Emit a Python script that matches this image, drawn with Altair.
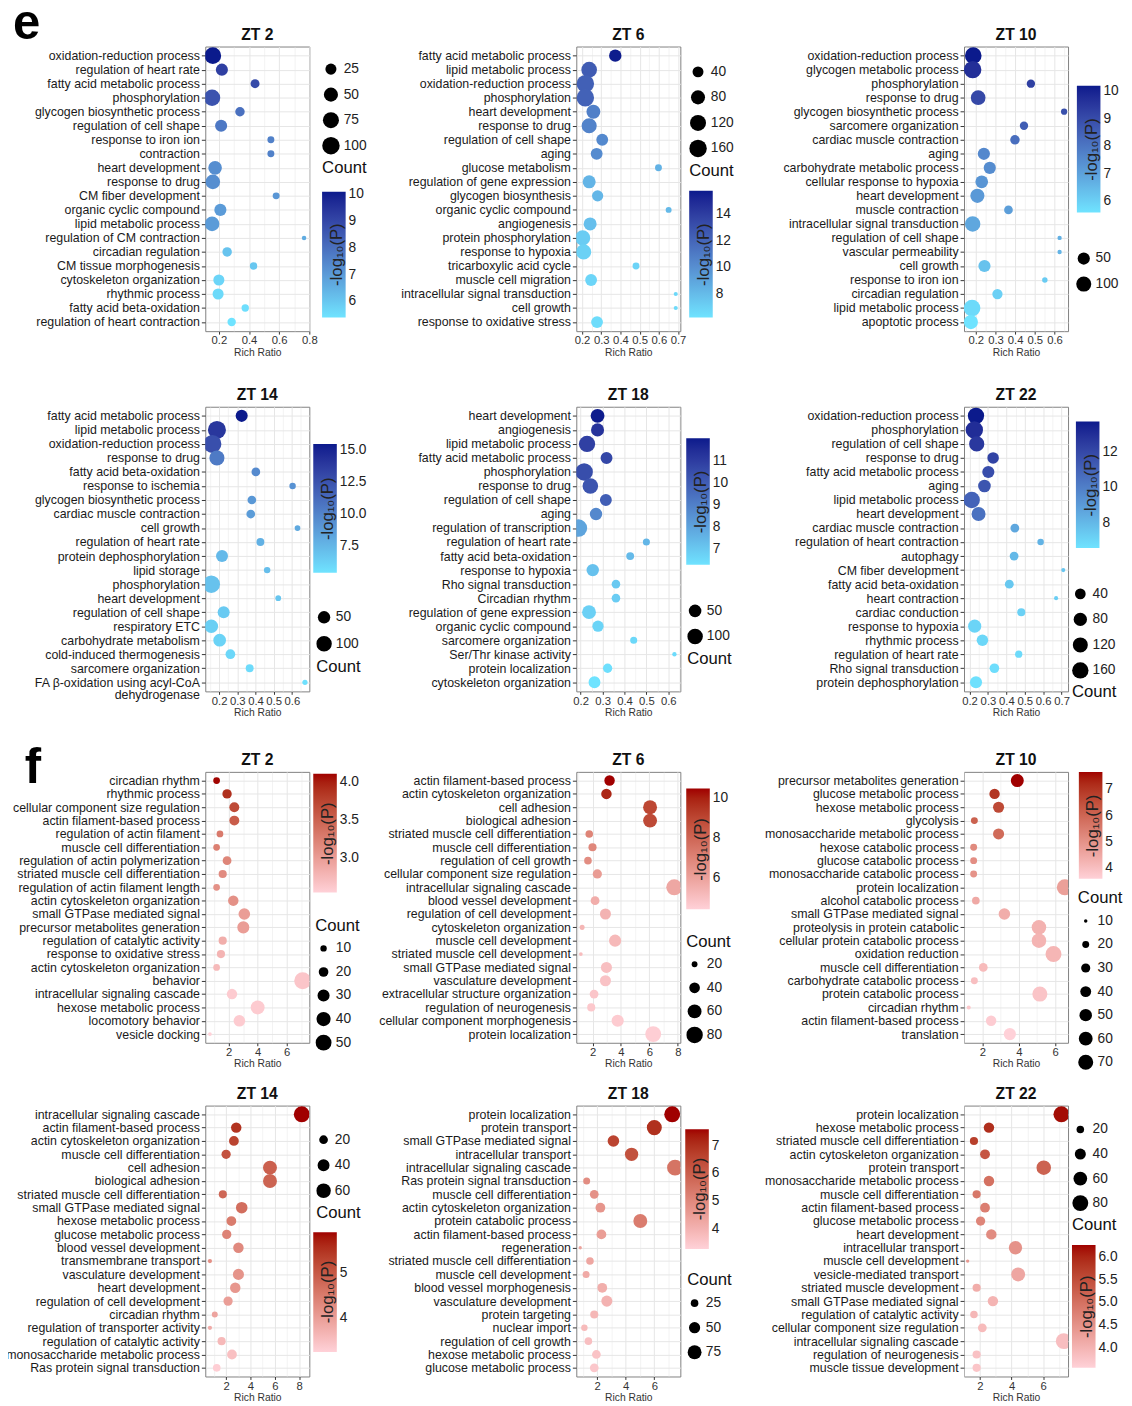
import json
import math
import altair as alt
import pandas as pd

# ---------------- data ----------------
E_ZT2_TERMS = ["oxidation-reduction process", "regulation of heart rate", "fatty acid metabolic process",
               "phosphorylation", "glycogen biosynthetic process", "regulation of cell shape",
               "response to iron ion", "contraction", "heart development", "response to drug",
               "CM fiber development", "organic cyclic compound", "lipid metabolic process",
               "regulation of CM contraction", "circadian regulation", "CM tissue morphogenesis",
               "cytoskeleton organization", "rhythmic process", "fatty acid beta-oxidation",
               "regulation of heart contraction"]
E_ZT2_RATIO = [0.16, 0.22, 0.44, 0.155, 0.34, 0.215, 0.545, 0.545, 0.175, 0.16, 0.58, 0.21, 0.155,
               0.765, 0.255, 0.43, 0.20, 0.195, 0.375, 0.285]
E_ZT2_COUNT = [85, 32, 15, 80, 17, 32, 9, 9, 45, 56, 9, 32, 56, 5, 17, 10, 25, 25, 10, 13]
E_ZT2_LOGP = [10.1, 9.2, 8.9, 8.7, 8.0, 7.8, 7.6, 7.6, 7.3, 7.3, 7.1, 7.0, 7.0, 6.6, 6.1, 6.0, 5.7,
              5.6, 5.5, 5.4]

E_ZT6_TERMS = ["fatty acid metabolic process", "lipid metabolic process", "oxidation-reduction process",
               "phosphorylation", "heart development", "response to drug", "regulation of cell shape",
               "aging", "glucose metabolism", "regulation of gene expression", "glycogen biosynthesis",
               "organic cyclic compound", "angiogenesis", "protein phosphorylation", "response to hypoxia",
               "tricarboxylic acid cycle", "muscle cell migration", "intracellular signal transduction",
               "cell growth", "response to oxidative stress"]
E_ZT6_RATIO = [0.373, 0.237, 0.217, 0.217, 0.259, 0.237, 0.305, 0.276, 0.598, 0.237, 0.281, 0.651,
               0.242, 0.203, 0.208, 0.481, 0.247, 0.688, 0.688, 0.278]
E_ZT6_COUNT = [56, 111, 160, 158, 77, 101, 49, 49, 15, 64, 43, 12, 64, 101, 101, 15, 49, 8, 8, 49]
E_ZT6_LOGP = [15.7, 12.5, 12.3, 12.2, 10.8, 10.6, 10.3, 10.2, 8.4, 8.3, 8.2, 8.1, 7.8, 7.2, 7.0, 6.9,
              6.8, 6.7, 6.6, 6.5]

E_ZT10_TERMS = ["oxidation-reduction process", "glycogen metabolic process", "phosphorylation",
                "response to drug", "glycogen biosynthetic process", "sarcomere organization",
                "cardiac muscle contraction", "aging", "carbohydrate metabolic process",
                "cellular response to hypoxia", "heart development", "muscle contraction",
                "intracellular signal transduction", "regulation of cell shape", "vascular permeability",
                "cell growth", "response to iron ion", "circadian regulation", "lipid metabolic process",
                "apoptotic process"]
E_ZT10_RATIO = [0.187, 0.184, 0.48, 0.212, 0.649, 0.445, 0.399, 0.241, 0.271, 0.23, 0.208, 0.366,
                0.184, 0.626, 0.626, 0.244, 0.551, 0.31, 0.181, 0.175]
E_ZT10_COUNT = [140, 165, 17, 92, 9, 17, 24, 50, 50, 57, 81, 19, 109, 5, 5, 50, 7, 30, 140, 81]
E_ZT10_LOGP = [10.2, 9.7, 9.3, 9.1, 8.9, 8.6, 8.2, 7.6, 7.5, 7.3, 7.2, 7.1, 6.9, 6.7, 6.6, 6.3, 6.1,
               6.0, 5.8, 5.6]

E_ZT14_TERMS = ["fatty acid metabolic process", "lipid metabolic process", "oxidation-reduction process",
                "response to drug", "fatty acid beta-oxidation", "response to ischemia",
                "glycogen biosynthetic process", "cardiac muscle contraction", "cell growth",
                "regulation of heart rate", "protein dephosphorylation", "lipid storage", "phosphorylation",
                "heart development", "regulation of cell shape", "respiratory ETC",
                "carbohydrate metabolism", "cold-induced thermogenesis", "sarcomere organization",
                "FA β-oxidation using acyl-CoA dehydrogenase"]
E_ZT14_RATIO = [0.324, 0.188, 0.163, 0.188, 0.402, 0.604, 0.38, 0.374, 0.631, 0.427, 0.216, 0.464,
                0.157, 0.525, 0.225, 0.157, 0.203, 0.262, 0.368, 0.672]
E_ZT14_COUNT = [46, 164, 164, 91, 20, 11, 20, 20, 9, 16, 46, 11, 149, 9, 46, 66, 54, 26, 16, 8]
E_ZT14_LOGP = [15.5, 14.0, 12.7, 10.5, 9.7, 9.3, 9.0, 8.8, 8.2, 7.8, 7.4, 7.2, 7.0, 6.8, 6.6, 6.4, 6.2,
               6.0, 5.8, 5.6]

E_ZT18_TERMS = ["heart development", "angiogenesis", "lipid metabolic process", "fatty acid metabolic process",
                "phosphorylation", "response to drug", "regulation of cell shape", "aging",
                "regulation of transcription", "regulation of heart rate", "fatty acid beta-oxidation",
                "response to hypoxia", "Rho signal transduction", "Circadian rhythm",
                "regulation of gene expression", "organic cyclic compound", "sarcomere organization",
                "Ser/Thr kinase activity", "protein localization", "cytoskeleton organization"]
E_ZT18_RATIO = [0.277, 0.277, 0.229, 0.318, 0.216, 0.244, 0.315, 0.27, 0.19, 0.5, 0.426, 0.255, 0.361,
                0.361, 0.238, 0.279, 0.442, 0.628, 0.323, 0.263]
E_ZT18_COUNT = [68, 56, 116, 42, 146, 100, 42, 48, 146, 11, 14, 48, 17, 17, 68, 36, 11, 5, 21, 42]
E_ZT18_LOGP = [12.0, 11.3, 10.9, 10.7, 10.5, 10.3, 10.0, 8.8, 8.0, 7.5, 7.4, 7.2, 7.0, 6.9, 6.8, 6.7,
               6.6, 6.5, 6.4, 6.3]

E_ZT22_TERMS = ["oxidation-reduction process", "phosphorylation", "regulation of cell shape",
                "response to drug", "fatty acid metabolic process", "aging", "lipid metabolic process",
                "heart development", "cardiac muscle contraction", "regulation of heart contraction",
                "autophagy", "CM fiber development", "fatty acid beta-oxidation", "heart contraction",
                "cardiac conduction", "response to hypoxia", "rhythmic process", "regulation of heart rate",
                "Rho signal transduction", "protein dephosphorylation"]
E_ZT22_RATIO = [0.235, 0.226, 0.239, 0.328, 0.302, 0.281, 0.212, 0.249, 0.446, 0.586, 0.442, 0.709,
                0.416, 0.67, 0.481, 0.228, 0.27, 0.467, 0.335, 0.235]
E_ZT22_COUNT = [160, 201, 126, 50, 59, 67, 160, 94, 23, 11, 23, 5, 23, 5, 18, 77, 50, 14, 29, 59]
E_ZT22_LOGP = [13.7, 13.0, 12.6, 12.2, 11.8, 11.5, 11.0, 10.5, 8.6, 8.2, 8.0, 7.6, 7.5, 7.3, 7.2, 7.1,
               7.0, 6.9, 6.8, 6.7]

F_ZT2_TERMS = ["circadian rhythm", "rhythmic process", "cellular component size regulation",
               "actin filament-based process", "regulation of actin filament", "muscle cell differentiation",
               "regulation of actin polymerization", "striated muscle cell differentiation",
               "regulation of actin filament length", "actin cytoskeleton organization",
               "small GTPase mediated signal", "precursor metabolites generation",
               "regulation of catalytic activity", "response to oxidative stress",
               "actin cytoskeleton organization", "behavior", "intracellular signaling cascade",
               "hexose metabolic process", "locomotory behavior", "vesicle docking"]
F_ZT2_RATIO = [1.17, 1.89, 2.39, 2.39, 1.40, 1.17, 1.89, 1.59, 1.17, 2.32, 3.08, 3.01, 1.59, 1.47, 1.17,
               7.1, 2.23, 4.0, 2.74, 0.71]
F_ZT2_COUNT = [11, 19, 21, 21, 11, 11, 17, 15, 11, 23, 28, 30, 15, 15, 11, 56, 23, 39, 28, 5]
F_ZT2_LOGP = [4.1, 3.9, 3.7, 3.55, 3.3, 3.25, 3.2, 3.15, 3.1, 3.1, 3.0, 3.0, 2.85, 2.8, 2.75, 2.65, 2.6,
              2.6, 2.6, 2.55]

F_ZT6_TERMS = ["actin filament-based process", "actin cytoskeleton organization", "cell adhesion",
               "biological adhesion", "striated muscle cell differentiation", "muscle cell differentiation",
               "regulation of cell growth", "cellular component size regulation",
               "intracellular signaling cascade", "blood vessel development", "regulation of cell development",
               "cytoskeleton organization", "muscle cell development", "striated muscle cell development",
               "small GTPase mediated signal", "vasculature development",
               "extracellular structure organization", "regulation of neurogenesis",
               "cellular component morphogenesis", "protein localization"]
F_ZT6_RATIO = [3.2, 2.98, 6.05, 6.05, 1.77, 2.0, 1.68, 2.34, 7.75, 2.18, 2.91, 1.27, 3.59, 1.18, 2.98,
               2.91, 2.11, 1.91, 3.77, 6.27]
F_ZT6_COUNT = [39, 39, 60, 60, 26, 28, 26, 33, 75, 31, 42, 18, 49, 15, 42, 42, 31, 28, 49, 75]
F_ZT6_LOGP = [10.5, 9.9, 9.0, 8.9, 7.0, 6.9, 6.7, 6.2, 5.8, 5.6, 5.4, 5.3, 5.2, 5.1, 5.0, 4.9, 4.8, 4.7,
              4.6, 4.5]

F_ZT10_TERMS = ["precursor metabolites generation", "glucose metabolic process", "hexose metabolic process",
                "glycolysis", "monosaccharide metabolic process", "hexose catabolic process",
                "glucose catabolic process", "monosaccharide catabolic process", "protein localization",
                "alcohol catabolic process", "small GTPase mediated signal", "proteolysis in protein catabolic",
                "cellular protein catabolic process", "oxidation reduction", "muscle cell differentiation",
                "carbohydrate catabolic process", "protein catabolic process", "circadian rhythm",
                "actin filament-based process", "translation"]
F_ZT10_RATIO = [3.92, 2.67, 2.89, 1.56, 2.89, 1.52, 1.52, 1.52, 6.53, 1.64, 3.21, 5.11, 5.11, 5.91, 2.05,
                1.56, 5.16, 1.25, 2.48, 3.51]
F_ZT10_COUNT = [54, 37, 41, 20, 41, 20, 20, 20, 78, 23, 44, 66, 66, 78, 28, 20, 70, 11, 37, 48]
F_ZT10_LOGP = [7.7, 7.0, 6.6, 6.1, 5.9, 5.2, 5.1, 5.0, 4.7, 4.5, 4.4, 4.3, 4.25, 4.2, 4.1, 4.0, 3.9, 3.8,
               3.7, 3.6]

F_ZT14_TERMS = ["intracellular signaling cascade", "actin filament-based process",
                "actin cytoskeleton organization", "muscle cell differentiation", "cell adhesion",
                "biological adhesion", "striated muscle cell differentiation", "small GTPase mediated signal",
                "hexose metabolic process", "glucose metabolic process", "blood vessel development",
                "transmembrane transport", "vasculature development", "heart development",
                "regulation of cell development", "circadian rhythm", "regulation of transporter activity",
                "regulation of catalytic activity", "monosaccharide metabolic process",
                "Ras protein signal transduction"]
F_ZT14_RATIO = [8.21, 2.83, 2.64, 2.0, 5.6, 5.6, 1.73, 3.28, 2.43, 2.05, 3.01, 0.67, 3.01, 2.75, 2.16,
                1.07, 0.67, 1.63, 2.48, 1.23]
F_ZT14_COUNT = [73, 30, 26, 23, 55, 55, 17, 37, 26, 23, 30, 3, 34, 30, 23, 8, 3, 17, 26, 15]
F_ZT14_LOGP = [5.9, 5.5, 5.3, 5.1, 4.9, 4.85, 4.8, 4.7, 4.5, 4.4, 4.3, 4.2, 4.15, 4.1, 4.0, 3.9, 3.8,
               3.6, 3.5, 3.3]

F_ZT18_TERMS = ["protein localization", "protein transport", "small GTPase mediated signal",
                "intracellular transport", "intracellular signaling cascade", "Ras protein signal transduction",
                "muscle cell differentiation", "actin cytoskeleton organization", "protein catabolic process",
                "actin filament-based process", "regeneration", "striated muscle cell differentiation",
                "muscle cell development", "blood vessel morphogenesis", "vasculature development",
                "protein targeting", "nuclear import", "regulation of cell growth", "hexose metabolic process",
                "glucose metabolic process"]
F_ZT18_RATIO = [7.25, 6.0, 3.14, 4.41, 7.45, 1.27, 1.8, 2.23, 5.02, 2.30, 0.82, 1.5, 1.23, 2.36, 2.68,
                1.8, 1.11, 1.39, 1.95, 1.8]
F_ZT18_COUNT = [97, 87, 53, 69, 97, 22, 32, 39, 75, 39, 8, 25, 22, 39, 49, 28, 19, 25, 32, 32]
F_ZT18_LOGP = [7.6, 7.0, 6.6, 6.3, 5.5, 4.9, 4.8, 4.7, 5.3, 4.5, 4.4, 4.3, 4.2, 4.1, 4.0, 3.9, 3.8, 3.7,
               3.6, 3.5]

F_ZT22_TERMS = ["protein localization", "hexose metabolic process", "striated muscle cell differentiation",
                "actin cytoskeleton organization", "protein transport", "monosaccharide metabolic process",
                "muscle cell differentiation", "actin filament-based process", "glucose metabolic process",
                "heart development", "intracellular transport", "muscle cell development",
                "vesicle-mediated transport", "striated muscle development", "small GTPase mediated signal",
                "regulation of catalytic activity", "cellular component size regulation",
                "intracellular signaling cascade", "regulation of neurogenesis", "muscle tissue development"]
F_ZT22_RATIO = [7.16, 2.57, 1.62, 2.32, 6.04, 2.57, 1.79, 2.32, 2.04, 2.72, 4.25, 1.22, 4.42, 1.79, 2.82,
                1.62, 2.15, 7.31, 1.79, 1.79]
F_ZT22_COUNT = [80, 36, 23, 32, 67, 36, 23, 32, 29, 36, 57, 6, 62, 23, 36, 20, 26, 80, 23, 23]
F_ZT22_LOGP = [6.2, 5.9, 5.7, 5.4, 5.2, 5.0, 4.9, 4.8, 4.7, 4.6, 4.5, 4.4, 4.2, 4.1, 4.0, 3.95, 3.9,
               3.85, 3.8, 3.75]

# ---------------- styles ----------------
LABEL_FONT = "Liberation Sans, Arial, sans-serif"
TEXT_FONT = "Liberation Sans, Arial, sans-serif"
BLUE = ["#6FE3FF", "#0B1A8C"]
RED = ["#FFD1D8", "#A00000"]
GRID = "#E6E6E6"
PW = 106           # plot width
EH, FH = 290, 276  # plot heights
COL_GAPS = [272, 289]          # plot-to-plot horizontal gaps
ROW_GAPS = [77, 82, 64]        # plot-to-plot vertical gaps


def d2a(d):
    return round(math.pi / 4 * d * d, 1)


PANELS = {
    "eZT2": dict(title="ZT 2", terms=E_ZT2_TERMS, ratio=E_ZT2_RATIO, count=E_ZT2_COUNT, logp=E_ZT2_LOGP,
                 h=EH, pal=BLUE, xdom=[0.11, 0.80], xstep=0.2, xfmt=".1f",
                 cdom=[5.4, 10.1], cvals=[6, 7, 8, 9, 10], cfmt="d", clen=128, cpos=(117, 148),
                 stype="sqrt", sdom=[5, 110], srange=[d2a(5.2), d2a(20.7)], svals=[25, 50, 75, 100],
                 spos=(119, 10), stitle="bottom", clip=26),
    "eZT6": dict(title="ZT 6", terms=E_ZT6_TERMS, ratio=E_ZT6_RATIO, count=E_ZT6_COUNT, logp=E_ZT6_LOGP,
                 h=EH, pal=BLUE, xdom=[0.17, 0.712], xstep=0.1, xfmt=".1f",
                 cdom=[6.2, 15.8], cvals=[8, 10, 12, 14], cfmt="d", clen=129, cpos=(113, 147),
                 stype="sqrt", sdom=[8, 170], srange=[d2a(4.7), d2a(20.5)], svals=[40, 80, 120, 160],
                 spos=(115, 13), stitle="bottom", clip=25.6),
    "eZT10": dict(title="ZT 10", terms=E_ZT10_TERMS, ratio=E_ZT10_RATIO, count=E_ZT10_COUNT, logp=E_ZT10_LOGP,
                  h=EH, pal=BLUE, xdom=[0.14, 0.669], xstep=0.1, xfmt=".1f",
                  cdom=[5.6, 10.2], cvals=[6, 7, 8, 9, 10], cfmt="d", clen=129, cpos=(113, 40),
                  stype="sqrt", sdom=[5, 165], srange=[d2a(5), d2a(20)], svals=[50, 100],
                  spos=(114, 203), stitle=None, clip=26),
    "eZT14": dict(title="ZT 14", terms=E_ZT14_TERMS, ratio=E_ZT14_RATIO, count=E_ZT14_COUNT, logp=E_ZT14_LOGP,
                  h=EH, pal=BLUE, xdom=[0.124, 0.696], xstep=0.1, xfmt=".1f",
                  cdom=[5.45, 15.5], cvals=[7.5, 10, 12.5, 15], cfmt=".1f", clen=131, cpos=(108, 38),
                  stype="sqrt", sdom=[8, 164], srange=[d2a(6), d2a(20.7)], svals=[50, 100],
                  spos=(113, 201), stitle="bottom", clip=27),
    "eZT18": dict(title="ZT 18", terms=E_ZT18_TERMS, ratio=E_ZT18_RATIO, count=E_ZT18_COUNT, logp=E_ZT18_LOGP,
                  h=EH, pal=BLUE, xdom=[0.18, 0.655], xstep=0.1, xfmt=".1f",
                  cdom=[6.3, 12.05], cvals=[7, 8, 9, 10, 11], cfmt="d", clen=129, cpos=(110, 32),
                  stype="sqrt", sdom=[5, 146], srange=[d2a(5), d2a(20)], svals=[50, 100],
                  spos=(113, 195), stitle="bottom", clip=26),
    "eZT22": dict(title="ZT 22", terms=E_ZT22_TERMS, ratio=E_ZT22_RATIO, count=E_ZT22_COUNT, logp=E_ZT22_LOGP,
                  h=EH, pal=BLUE, xdom=[0.17, 0.735], xstep=0.1, xfmt=".1f",
                  cdom=[6.6, 13.7], cvals=[8, 10, 12], cfmt="d", clen=129, cpos=(112, 15),
                  stype="sqrt", sdom=[5, 201], srange=[d2a(4.7), d2a(20)], svals=[40, 80, 120, 160],
                  spos=(110, 178), stitle="bottom", clip=25.3),
    "fZT2": dict(title="ZT 2", terms=F_ZT2_TERMS, ratio=F_ZT2_RATIO, count=F_ZT2_COUNT, logp=F_ZT2_LOGP,
                 h=FH, pal=RED, xdom=[0.39, 7.56], xstep=2, xfmt="d",
                 cdom=[2.55, 4.11], cvals=[3.0, 3.5, 4.0], cfmt=".1f", clen=121, cpos=(108, 2),
                 stype="linear", sdom=[5, 56], srange=[14.3, 294.8], svals=[10, 20, 30, 40, 50],
                 spos=(112, 149), stitle="top", clip=23.7),
    "fZT6": dict(title="ZT 6", terms=F_ZT6_TERMS, ratio=F_ZT6_RATIO, count=F_ZT6_COUNT, logp=F_ZT6_LOGP,
                 h=FH, pal=RED, xdom=[0.86, 8.18], xstep=2, xfmt="d",
                 cdom=[4.4, 10.5], cvals=[6, 8, 10], cfmt="d", clen=123, cpos=(110, 17),
                 stype="linear", sdom=[14, 85], srange=[10.3, 303.6], svals=[20, 40, 60, 80],
                 spos=(112, 165), stitle="top", clip=24),
    "fZT10": dict(title="ZT 10", terms=F_ZT10_TERMS, ratio=F_ZT10_RATIO, count=F_ZT10_COUNT, logp=F_ZT10_LOGP,
                  h=FH, pal=RED, xdom=[0.99, 6.71], xstep=2, xfmt="d",
                  cdom=[3.6, 7.66], cvals=[4, 5, 6, 7], cfmt="d", clen=109, cpos=(115, 0),
                  stype="linear", sdom=[10, 80], srange=[12.6, 271.6], svals=[10, 20, 30, 40, 50, 60, 70],
                  spos=(116, 121), stitle="top", clip=23.7),
    "fZT14": dict(title="ZT 14", terms=F_ZT14_TERMS, ratio=F_ZT14_RATIO, count=F_ZT14_COUNT, logp=F_ZT14_LOGP,
                  h=FH, pal=RED, xdom=[0.29, 8.83], xstep=2, xfmt="d",
                  cdom=[3.25, 5.9], cvals=[4, 5], cfmt="d", clen=122, cpos=(108, 129),
                  stype="linear", sdom=[3, 75], srange=[19.0, 271.0], svals=[20, 40, 60],
                  spos=(113, 22), stitle="bottom", clip=25.5),
    "fZT18": dict(title="ZT 18", terms=F_ZT18_TERMS, ratio=F_ZT18_RATIO, count=F_ZT18_COUNT, logp=F_ZT18_LOGP,
                  h=FH, pal=RED, xdom=[0.545, 7.82], xstep=2, xfmt="d",
                  cdom=[3.27, 7.6], cvals=[4, 5, 6, 7], cfmt="d", clen=122, cpos=(109, 24),
                  stype="linear", sdom=[8, 97], srange=[11.3, 263.0], svals=[25, 50, 75],
                  spos=(113, 170), stitle="top", clip=24.5),
    "fZT22": dict(title="ZT 22", terms=F_ZT22_TERMS, ratio=F_ZT22_RATIO, count=F_ZT22_COUNT, logp=F_ZT22_LOGP,
                  h=FH, pal=RED, xdom=[0.99, 7.58], xstep=2, xfmt="d",
                  cdom=[3.57, 6.26], cvals=[4.0, 4.5, 5.0, 5.5, 6.0], cfmt=".1f", clen=125, cpos=(108, 142),
                  stype="linear", sdom=[6, 82], srange=[11.9, 269.5], svals=[20, 40, 60, 80],
                  spos=(110, 12), stitle="bottom", clip=24.7),
}

CTITLE_PAD = -25
CTITLE_SHIFT = 8


def split_label(t):
    if len(t) > 40:
        cut = t.rfind(" ", 0, 32)
        return [t[:cut], t[cut + 1:]]
    return t


def make_panel(p):
    n = len(p["terms"])
    df = pd.DataFrame({
        "k": [f"{i:02d}" for i in range(n)],
        "term": p["terms"],
        "ratio": p["ratio"],
        "count": p["count"],
        "logp": p["logp"],
    })
    labels = [split_label(t) for t in p["terms"]]
    y_label_expr = json.dumps(labels) + "[toNumber(datum.value)]"

    lo, hi = p["xdom"]
    half = p["xstep"] / 2
    k0 = math.ceil(lo / half - 1e-9)
    k1 = math.floor(hi / half + 1e-9)
    vals, majors = [], []
    for k in range(k0, k1 + 1):
        v = round(k * half, 4)
        vals.append(v)
        if k % 2 == 0:
            majors.append(v)
    test = f"indexof({json.dumps(majors)}, datum.value) >= 0"
    x_label_expr = f"{test} ? format(datum.value, '{p['xfmt']}') : ''"

    xaxis = alt.Axis(
        values=vals, labelExpr=x_label_expr, title="Rich Ratio", grid=True, gridColor=GRID,
        gridWidth={"condition": {"test": test, "value": 1}, "value": 0.5},
        tickOpacity={"condition": {"test": test, "value": 1}, "value": 0},
        tickSize=3, tickColor="#333333", labelFont=LABEL_FONT, labelFontSize=11.5, labelColor="#333333",
        labelPadding=1, labelOverlap=False, labelFlush=False, domain=False,
        titleFont=TEXT_FONT, titleFontSize=10.5, titleFontWeight="normal", titleColor="#333333",
        titlePadding=1,
    )
    yaxis = alt.Axis(
        title=None, labelExpr=y_label_expr, labelFont=LABEL_FONT, labelFontSize=12.6, labelColor="#1a1a1a",
        labelPadding=2, labelLimit=400, labelOverlap=False, labelLineHeight=13, tickSize=4,
        tickColor="#333333", grid=True, gridColor=GRID, gridWidth=1, domain=False,
    )

    cx, cy = p["cpos"]
    color = alt.Color(
        "logp:Q",
        scale=alt.Scale(domain=p["cdom"], range=p["pal"], interpolate="lab", clamp=True, zero=False, nice=False),
        legend=alt.Legend(
            title="-log₁₀(P)", orient="none", legendX=cx + CTITLE_SHIFT, legendY=cy, direction="vertical",
            gradientLength=p["clen"], gradientThickness=24, gradientStrokeWidth=0,
            values=p["cvals"], format=p["cfmt"], labelFont=TEXT_FONT, labelFontSize=14,
            labelColor="#222222", labelOffset=3, titleOrient="left",
            titleFont=TEXT_FONT, titleFontSize=17, titleFontWeight="normal", titleColor="#222222",
            titlePadding=CTITLE_PAD, titleAnchor="middle",
        ),
    )

    sx, sy = p["spos"]
    legend_kw = dict(
        orient="none", legendX=sx, legendY=sy, direction="vertical", values=p["svals"],
        symbolFillColor="black", symbolStrokeWidth=0, symbolOpacity=1, symbolType="circle",
        labelFont=TEXT_FONT, labelFontSize=14, labelColor="#222222", labelOffset=4,
        clipHeight=p["clip"], rowPadding=0,
    )
    if p["stitle"]:
        legend_kw.update(title="Count", titleOrient=p["stitle"], titleFont=TEXT_FONT, titleFontSize=17,
                         titleFontWeight="normal", titleColor="#111111", titlePadding=2, titleAnchor="start")
    else:
        legend_kw.update(title=None)
    size = alt.Size(
        "count:Q",
        scale=alt.Scale(type=p["stype"], domain=p["sdom"], range=p["srange"], zero=False, nice=False),
        legend=alt.Legend(**legend_kw),
    )

    return alt.Chart(df).mark_circle(opacity=1, clip=True).encode(
        x=alt.X("ratio:Q", scale=alt.Scale(domain=p["xdom"], nice=False, zero=False), axis=xaxis),
        y=alt.Y("k:N", sort="ascending", scale=alt.Scale(type="point", padding=0.65), axis=yaxis),
        color=color,
        size=size,
    ).properties(
        width=PW, height=p["h"],
        title=alt.TitleParams(text=p["title"], fontSize=16, fontWeight="bold", font=TEXT_FONT, color="#111111",
                              anchor="middle", frame="group", offset=4),
    )


def spacer(w, h, letter=None):
    if letter:
        txt, lx, ly = letter
        ch = alt.Chart(pd.DataFrame({"lab": [txt]})).mark_text(
            fontSize=50, fontWeight="bold", font=TEXT_FONT, align="left", baseline="alphabetic", color="black",
        ).encode(text="lab:N", x=alt.value(lx), y=alt.value(ly))
    else:
        ch = alt.Chart(pd.DataFrame({"lab": [""]})).mark_point(opacity=0).encode(
            x=alt.value(0), y=alt.value(0))
    return ch.properties(width=w, height=h, view=alt.ViewBackground(strokeOpacity=0, fillOpacity=0))


def panel_row(keys):
    return [make_panel(PANELS[keys[0]]), spacer(COL_GAPS[0], 1),
            make_panel(PANELS[keys[1]]), spacer(COL_GAPS[1], 1),
            make_panel(PANELS[keys[2]])]


def gap_row(h, letter=None):
    return [spacer(1, h, letter)] + [spacer(1, h) for _ in range(4)]


cells = []
cells += gap_row(1, ("e", -196, -7))
cells += panel_row(["eZT2", "eZT6", "eZT10"])
cells += gap_row(ROW_GAPS[0])
cells += panel_row(["eZT14", "eZT18", "eZT22"])
cells += gap_row(ROW_GAPS[1], ("f", -184, ROW_GAPS[1] + 11))
cells += panel_row(["fZT2", "fZT6", "fZT10"])
cells += gap_row(ROW_GAPS[2])
cells += panel_row(["fZT14", "fZT18", "fZT22"])

chart = alt.concat(
    *cells, columns=5, spacing=0, bounds="flush", align="each",
).resolve_scale(
    x="independent", y="independent", color="independent", size="independent"
).resolve_legend(
    color="independent", size="independent"
).properties(
    padding={"left": -3, "top": -22, "right": 0, "bottom": 0}, background="white"
).configure_view(stroke="#808080", strokeWidth=1)

chart.save("out.html", embed_options={"renderer": "svg", "actions": False})
